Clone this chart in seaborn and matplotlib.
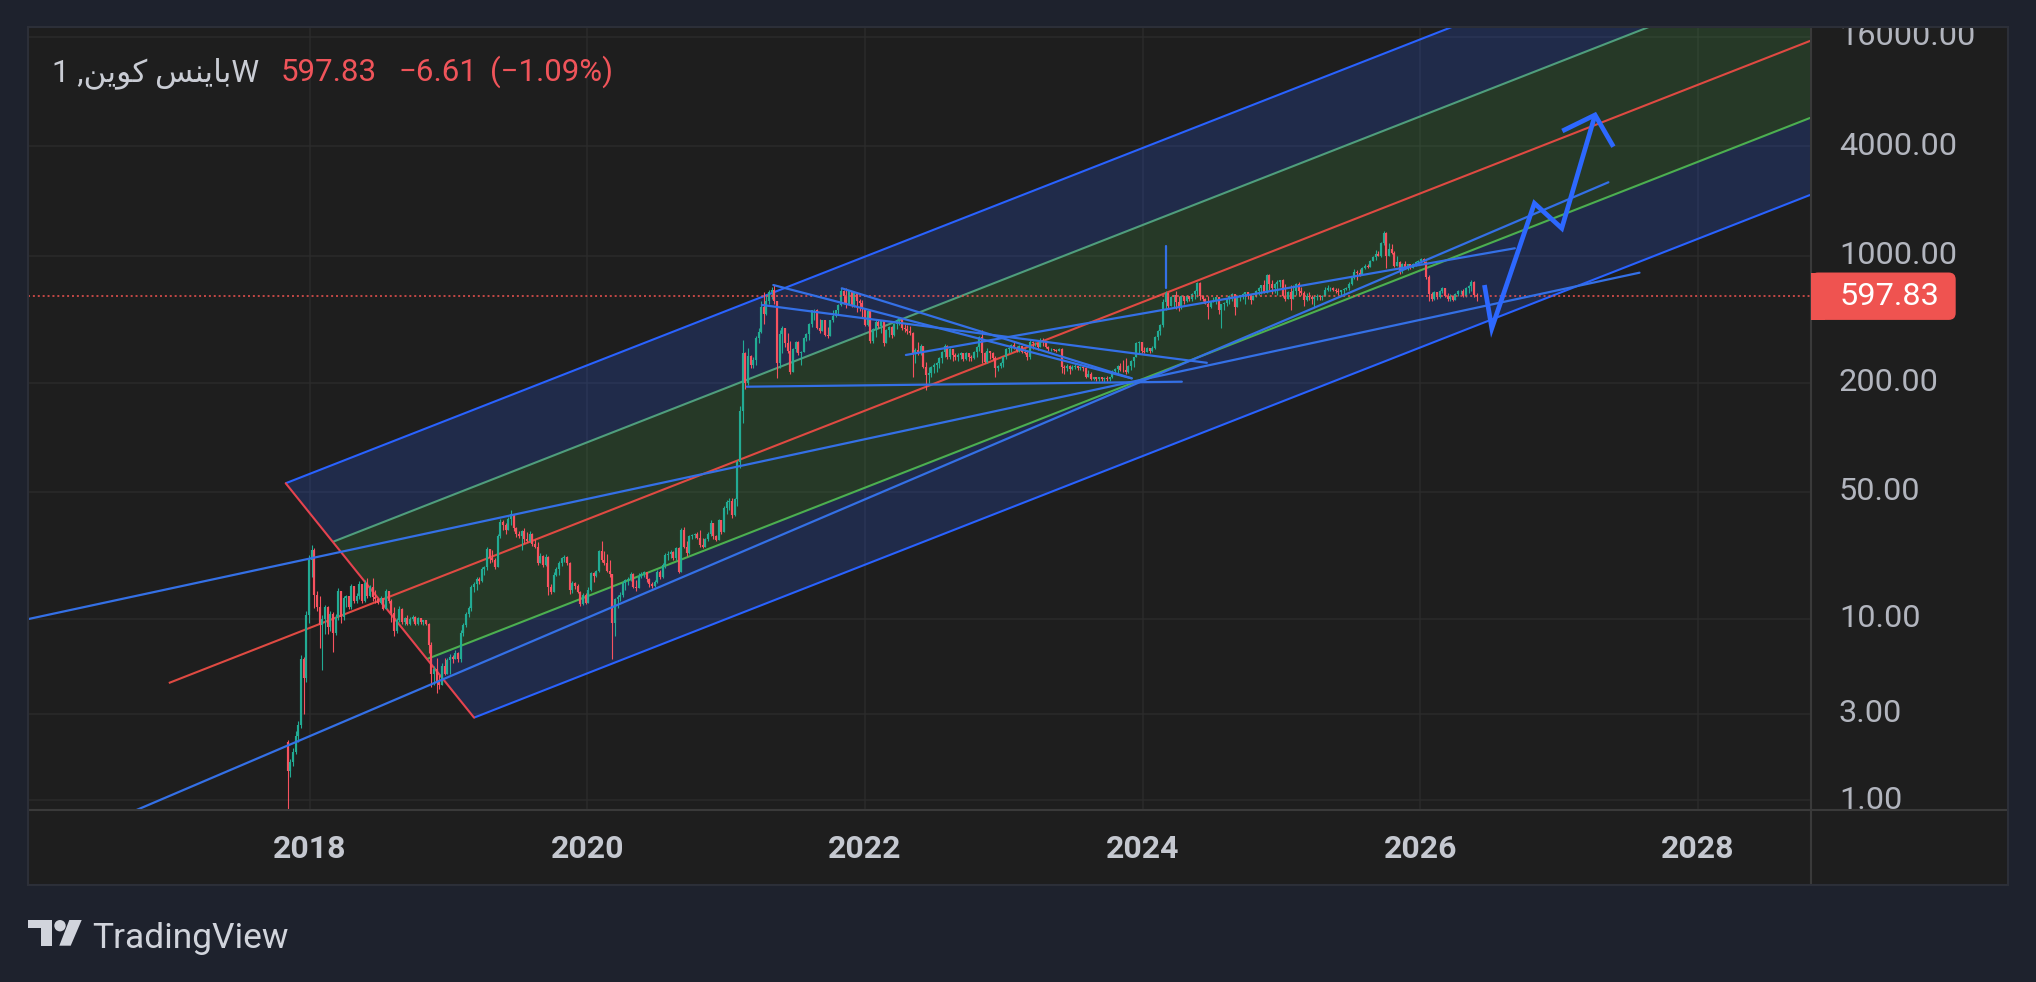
import matplotlib
matplotlib.use("Agg")
import numpy as np
import pandas as pd
import matplotlib.pyplot as plt
import matplotlib.transforms as mtransforms
from matplotlib.patches import Rectangle, FancyBboxPatch, Polygon, Circle
from matplotlib.lines import Line2D
from matplotlib.ticker import NullLocator
import seaborn as sns

# ------------------------------------------------------------------ data
first_open = 2.1
closes = [
    1.45, 1.62, 1.85, 2.25, 2.6, 6.0, 4.7, 10.5, 21, 24,
    13.5, 11.6, 9.2, 10.0, 11.6, 9.0, 10.7, 8.4, 10.3, 14.2,
    10.2, 13.0, 13.3, 11.6, 15.1, 12.6, 13.4, 15.5, 12.6, 15.8,
    13.4, 15.0, 13.2, 12.9, 12.3, 13.0, 11.4, 14.2, 12.5, 10.8,
    8.6, 9.8, 11.4, 9.6, 10.1, 9.4, 10.0, 10.3, 9.4, 10.1,
    9.6, 9.8, 9.4, 7.2, 5.0, 5.3, 4.5, 4.3, 5.5, 5.0,
    5.9, 6.2, 6.0, 6.5, 6.0, 8.4, 9.3, 10.6, 11.5, 15.0,
    15.5, 16.6, 16.2, 18.8, 19.2, 24.2, 21.5, 21.0, 19.2, 28.5,
    34.0, 33.0, 30.8, 35.5, 38.0, 31.5, 29.5, 28.6, 30.5, 27.5,
    26.8, 29.5, 25.7, 25.0, 20.3, 22.3, 19.7, 22.0, 15.0, 14.0,
    17.5, 18.7, 20.3, 21.5, 22.0, 20.2, 14.5, 15.8, 15.2, 14.1,
    12.0, 13.5, 12.3, 14.5, 17.9, 17.2, 18.3, 23.5, 21.2, 20.3,
    18.4, 17.6, 9.5, 12.8, 13.2, 13.5, 15.8, 16.3, 16.6, 17.6,
    15.0, 14.8, 17.3, 17.7, 18.0, 16.5, 15.6, 15.2, 16.0, 18.0,
    17.0, 19.8, 22.5, 22.8, 23.2, 21.5, 24.5, 18.2, 31.0, 25.0,
    23.0, 28.5, 28.8, 29.2, 28.0, 25.5, 25.0, 27.5, 29.3, 33.5,
    28.5, 27.3, 34.8, 30.0, 41.0, 44.0, 44.8, 37.5, 45.5, 73,
    140, 290, 200, 280, 250, 265, 350, 380, 520, 480,
    560, 630, 650, 560, 255, 370, 400, 330, 300, 228,
    305, 335, 290, 296, 350, 370, 418, 500, 505, 400,
    385, 440, 365, 360, 440, 465, 500, 535, 640, 600,
    540, 640, 525, 620, 560, 550, 510, 415, 495, 340,
    395, 432, 410, 435, 330, 390, 405, 365, 420, 445,
    455, 400, 395, 385, 375, 290, 302, 290, 320, 245,
    220, 225, 245, 250, 255, 272, 295, 320, 275, 305,
    285, 275, 285, 290, 270, 290, 276, 272, 295, 315,
    355, 290, 260, 300, 292, 272, 240, 246, 255, 275,
    305, 310, 322, 310, 300, 318, 295, 292, 275, 335,
    330, 332, 315, 345, 340, 315, 305, 305, 303, 300,
    308, 245, 240, 248, 238, 245, 248, 240, 243, 242,
    215, 222, 210, 214, 208, 214, 210, 213, 208, 214,
    232, 238, 246, 236, 234, 228, 248, 262, 275, 330,
    333, 300, 295, 310, 298, 312, 355, 385, 415, 555,
    620, 525, 590, 605, 555, 515, 598, 560, 600, 575,
    615, 640, 705, 600, 575, 545, 520, 555, 560, 590,
    500, 540, 550, 575, 600, 612, 520, 590, 605, 618,
    630, 605, 570, 600, 640, 665, 685, 625, 780, 700,
    660, 700, 720, 730, 600, 575, 630, 580, 640, 700,
    640, 620, 570, 600, 590, 575, 590, 600, 595, 602,
    645, 660, 665, 645, 640, 630, 645, 655, 665, 700,
    750, 815, 800, 780, 850, 880, 870, 940, 980, 1020,
    1000, 1180, 1330, 1000, 1090, 1030, 880, 920, 820, 900,
    850, 895, 860, 905, 925, 940, 960, 920, 760, 615,
    575, 630, 590, 640, 660, 600, 575, 600, 572, 615,
    635, 640, 600, 660, 680, 720, 604.44, 597.83,
]
highs = [
    2.15, 1.7, 1.95, 2.4, 2.75, 6.3, 6.2, 11, 22.5, 25.5,
    24.5, 14.2, 13.3, 10.5, 11.9, 11.7, 11.1, 10.9, 10.6, 14.8,
    14.3, 13.4, 13.6, 13.4, 15.6, 15.2, 13.9, 16.2, 15.6, 16.3,
    16.8, 15.3, 16.7, 14.5, 13.1, 13.3, 13.1, 14.6, 14.3, 12.8,
    11.6, 10.1, 11.7, 11.5, 10.3, 10.5, 10.2, 10.5, 10.4, 10.3,
    10.1, 9.9, 9.8, 9.5, 7.5, 5.5, 6.1, 4.9, 5.7, 6.1,
    6.1, 6.4, 6.3, 6.7, 6.6, 8.7, 9.5, 10.9, 11.8, 15.3,
    16.0, 17.0, 16.9, 19.2, 19.6, 25.0, 24.3, 23.8, 21.5, 29.5,
    35.5, 34.8, 33.5, 36.5, 39.8, 37.5, 32.0, 30.5, 31.0, 31.5,
    30.0, 30.5, 29.8, 27.5, 26.5, 23.0, 22.5, 22.8, 22.2, 15.5,
    18.0, 19.2, 20.8, 22.0, 22.4, 22.3, 20.5, 16.1, 16.0, 15.6,
    14.3, 13.9, 13.8, 14.9, 18.2, 18.0, 18.6, 24.0, 26.8, 23.5,
    22.8, 21.0, 17.3, 13.0, 13.6, 14.0, 16.2, 16.6, 17.0, 18.0,
    17.8, 16.3, 17.8, 18.0, 18.3, 18.2, 16.8, 15.9, 16.3, 18.5,
    18.6, 20.3, 23.0, 23.5, 23.8, 23.5, 25.0, 25.0, 31.8, 32.0,
    27.0, 29.0, 29.3, 29.6, 30.0, 30.8, 28.0, 28.0, 30.0, 35.0,
    33.8, 29.0, 35.5, 35.0, 42.0, 45.0, 46.0, 46.0, 46.5, 75,
    148, 345, 295, 310, 285, 275, 360, 400, 560, 630,
    610, 650, 670, 690, 560, 390, 410, 400, 375, 340,
    312, 340, 338, 300, 355, 375, 425, 505, 510, 510,
    450, 445, 445, 405, 445, 500, 505, 540, 660, 645,
    660, 645, 630, 625, 620, 575, 570, 510, 505, 500,
    400, 440, 445, 440, 430, 395, 410, 410, 425, 450,
    460, 455, 420, 415, 410, 380, 310, 335, 325, 320,
    260, 245, 248, 255, 260, 275, 300, 325, 322, 310,
    300, 292, 290, 293, 292, 295, 290, 285, 298, 318,
    360, 390, 295, 310, 300, 295, 280, 250, 260, 278,
    310, 315, 328, 335, 318, 322, 318, 305, 300, 342,
    338, 336, 330, 350, 350, 340, 318, 310, 308, 306,
    312, 310, 250, 252, 250, 250, 252, 248, 246, 246,
    245, 234, 228, 216, 215, 216, 215, 216, 217, 216,
    235, 240, 250, 255, 266, 272, 250, 266, 278, 335,
    338, 320, 315, 315, 310, 316, 360, 390, 420, 580,
    640, 625, 600, 610, 635, 600, 605, 600, 606, 600,
    620, 645, 720, 712, 610, 585, 596, 560, 594, 595,
    595, 545, 555, 580, 606, 620, 615, 594, 610, 622,
    634, 612, 610, 606, 645, 672, 690, 730, 795, 790,
    735, 705, 730, 735, 740, 700, 635, 690, 690, 705,
    720, 670, 635, 625, 630, 605, 605, 618, 610, 608,
    672, 685, 675, 672, 665, 660, 650, 660, 672, 712,
    765, 840, 830, 840, 870, 905, 905, 950, 990, 1075,
    1055, 1190, 1370, 1350, 1170, 1160, 1060, 1000, 930, 910,
    935, 905, 900, 912, 935, 950, 975, 970, 935, 780,
    630, 635, 628, 650, 670, 665, 625, 618, 605, 620,
    645, 648, 652, 672, 686, 735, 725, 620,
]
lows = [
    0.6, 1.35, 1.55, 1.8, 2.1, 2.5, 3.0, 4.5, 9.5, 17,
    11.5, 11.0, 6.9, 5.2, 8.3, 8.3, 8.6, 6.6, 8.1, 9.8,
    9.5, 9.9, 11.6, 11.3, 11.4, 12.2, 12.3, 12.9, 12.3, 12.4,
    13.0, 13.2, 12.6, 12.3, 12.0, 12.1, 11.2, 11.3, 12.2, 9.6,
    8.0, 8.4, 9.6, 9.4, 9.3, 9.2, 9.3, 9.7, 9.2, 9.3,
    9.4, 9.3, 9.2, 6.5, 4.2, 4.3, 3.9, 4.1, 4.3, 4.9,
    5.0, 5.0, 5.7, 6.0, 5.8, 5.8, 8.0, 9.0, 10.2, 11.0,
    14.0, 14.5, 15.5, 16.0, 17.5, 18.5, 20.2, 20.5, 18.8, 19.5,
    28.0, 31.0, 29.5, 31.5, 33.0, 30.5, 28.2, 28.0, 24.0, 26.0,
    26.5, 26.5, 25.2, 24.6, 19.8, 20.5, 19.2, 19.5, 13.6, 13.7,
    14.2, 17.3, 17.5, 19.5, 20.5, 19.8, 13.7, 13.8, 14.6, 13.8,
    11.7, 11.9, 12.0, 12.2, 14.3, 16.0, 17.0, 18.2, 20.5, 19.8,
    18.0, 17.0, 6.0, 8.0, 11.5, 12.5, 13.2, 14.5, 15.3, 16.2,
    14.7, 14.3, 14.8, 16.8, 17.0, 16.0, 15.0, 14.7, 15.0, 15.8,
    16.6, 16.8, 19.0, 21.0, 21.5, 21.0, 21.2, 17.8, 18.5, 24.5,
    22.3, 22.8, 27.5, 27.8, 27.5, 25.0, 24.6, 24.8, 27.0, 28.5,
    27.5, 27.0, 27.2, 29.5, 31.0, 38.0, 40.0, 36.0, 37.0, 42,
    68, 120, 185, 195, 240, 240, 250, 330, 375, 420,
    470, 540, 580, 545, 211, 240, 290, 315, 290, 222,
    265, 295, 285, 250, 295, 340, 345, 405, 440, 395,
    375, 385, 360, 350, 360, 430, 460, 480, 525, 540,
    515, 540, 520, 520, 490, 495, 460, 410, 410, 330,
    330, 355, 400, 375, 320, 330, 355, 350, 360, 395,
    415, 390, 380, 370, 365, 214, 255, 285, 285, 240,
    183, 200, 215, 225, 230, 240, 255, 275, 270, 270,
    262, 265, 262, 268, 262, 266, 262, 262, 270, 278,
    300, 255, 255, 255, 268, 266, 214, 232, 242, 245,
    270, 290, 295, 305, 295, 295, 290, 288, 265, 270,
    305, 318, 302, 315, 320, 310, 300, 300, 298, 296,
    298, 225, 224, 232, 224, 236, 238, 236, 236, 232,
    212, 218, 206, 206, 204, 205, 205, 202, 205, 203,
    212, 222, 225, 232, 230, 222, 225, 234, 245, 280,
    290, 290, 290, 295, 290, 295, 305, 345, 365, 405,
    500, 515, 535, 520, 510, 495, 510, 540, 555, 565,
    565, 580, 590, 570, 560, 540, 448, 515, 555, 540,
    480, 400, 500, 525, 545, 560, 470, 530, 565, 575,
    545, 575, 545, 570, 595, 605, 615, 620, 620, 645,
    618, 625, 605, 670, 595, 565, 575, 500, 575, 605,
    600, 610, 525, 560, 570, 545, 520, 570, 570, 570,
    600, 635, 640, 640, 620, 608, 610, 615, 645, 650,
    690, 745, 730, 775, 780, 840, 855, 865, 930, 945,
    990, 985, 1150, 860, 1000, 1020, 870, 905, 790, 800,
    840, 830, 840, 850, 880, 900, 915, 900, 740, 565,
    565, 570, 580, 585, 620, 595, 565, 560, 565, 568,
    600, 618, 590, 595, 620, 640, 590, 560,
]
first_bar_year = 2017.841          # decimal year of the first weekly bar

price_ticks = [1, 3, 10, 50, 200, 1000, 4000, 16000]
price_tick_labels = ["1.00", "3.00", "10.00", "50.00", "200.00",
                     "1000.00", "4000.00", "16000.00"]
year_ticks = [2018, 2020, 2022, 2024, 2026, 2028]
year_labels = ["2018", "2020", "2022", "2024", "2026", "2028"]

last_price = 597.83
change_abs = -6.61
change_pct = -1.09
# "باينس كوين, 1W" laid out in visual order with Arabic presentation forms
symbol_label = ("1 ," + "\uFEE6\uFEF3\uFEEE\uFEDB" + " "
                + "\uFEB2\uFEE8\uFEF3\uFE8E\uFE91" + "W")

# Fibonacci-style channel: corner A, corner B, second point of the level-0 line
channel_t = [2017.827, 2019.184, 2026.215]
channel_p = [55.8, 2.857, 17990]
channel_levels = [0.0, 0.25, 0.5, 0.75, 1.0]
median_left_t = 2016.985

# user trend lines (start / end)
trend_t0 = [2021.340, 2021.833, 2021.257, 2022.295, 2021.149, 2016.60, 2015.80, 2024.170]
trend_p0 = [689, 661, 535, 283.8, 189.8, 0.79, 9.34, 661]
trend_t1 = [2023.922, 2023.922, 2024.463, 2026.682, 2024.283, 2027.356, 2027.580, 2024.170]
trend_p1 = [211, 211, 257, 1098, 202.2, 2535, 805.6, 1130]

# projected path drawn with the arrow tool
arrow_t = [2026.463, 2026.516, 2026.823, 2027.020, 2027.260]
arrow_p = [689, 398, 1942, 1415, 5952]
arrow_head_t = [2027.024, 2027.260, 2027.392]
arrow_head_p = [4858, 5952, 3981]

# ------------------------------------------------------------------ style
sns.set_theme(style="dark")
plt.rcParams['font.family'] = ['Roboto', 'DejaVu Sans']

OUTER = '#1e222d'
BG = '#1e1e1e'
GRID = '#2b2b2b'
SEP = '#3a3a3a'
OUTLINE = '#2c2f38'
UP = '#22ab94'
DOWN = '#f7525f'
RED_TXT = '#f0545a'
BOX = '#ef5350'
AXIS_TXT = '#b2b5be'
YEAR_TXT = '#c5c8d0'
LEG_TXT = '#c9ccd4'
CH_BLUE = '#2962ff'
CH_TEAL = '#4f9e7d'
CH_RED = '#df4a42'
CH_GREEN = '#4caf50'
DIAG = '#e5434f'
TREND = '#3470e6'
ARROW = '#2d68ff'

W, H = 2036, 982
PLOT_L, PLOT_R, PLOT_T, PLOT_B = 28, 1811, 27, 810
PANEL_R, PANEL_B = 2008, 885
X0, X1 = 2015.9705, 2028.8156
Y0, Y1 = 0.8858, 18158

fig = plt.figure(figsize=(W / 100, H / 100), dpi=100)
fig.patch.set_facecolor(OUTER)
ident = mtransforms.IdentityTransform()

def fy(y):
    return H - y

# panel background
fig.add_artist(Rectangle((PLOT_L, fy(PANEL_B)), PANEL_R - PLOT_L, PANEL_B - PLOT_T,
                         transform=ident, facecolor=BG, edgecolor='none', zorder=-5))

ax = fig.add_axes([PLOT_L / W, (H - PLOT_B) / H, (PLOT_R - PLOT_L) / W, (PLOT_B - PLOT_T) / H])
ax.set_facecolor(BG)
ax.set_yscale('log')

# ---- channel fills and lines
tA, tB, tC = channel_t
lA, lB, lC = np.log10(channel_p)
slope = (lC - lA) / (tC - tA)
T_RIGHT = X1 + 0.7

def level_geom(f):
    t0 = tA + f * (tB - tA)
    l0 = lA + f * (lB - lA)
    return t0, l0, l0 + slope * (T_RIGHT - t0)

bands = [(0.0, 0.25, CH_BLUE, 0.20), (0.25, 0.75, CH_GREEN, 0.19), (0.75, 1.0, CH_BLUE, 0.20)]
for f1, f2, col, a in bands:
    ta, la0, la1 = level_geom(f1)
    tb, lb0, lb1 = level_geom(f2)
    ax.fill([ta, T_RIGHT, T_RIGHT, tb],
            [10 ** la0, 10 ** la1, 10 ** lb1, 10 ** lb0],
            color=col, alpha=a, lw=0, zorder=1)

level_colors = [CH_BLUE, CH_TEAL, CH_RED, CH_GREEN, CH_BLUE]
for f, col in zip(channel_levels, level_colors):
    t0, l0, l1 = level_geom(f)
    if f == 0.5:
        l0 = l0 + slope * (median_left_t - t0)
        t0 = median_left_t
    ax.plot([t0, T_RIGHT], [10 ** l0, 10 ** l1], color=col, lw=1.5,
            solid_capstyle='butt', zorder=3)
ax.plot([tA, tB], [channel_p[0], channel_p[1]], color=DIAG, lw=1.5, zorder=3)

# ---- candles
n = min(len(closes), len(highs), len(lows))
c = np.array(closes[:n], dtype=float)
o = np.concatenate([[first_open], c[:-1]])
hi = np.maximum(np.array(highs[:n], dtype=float), np.maximum(o, c))
lo = np.minimum(np.array(lows[:n], dtype=float), np.minimum(o, c))
t = first_bar_year + np.arange(n) * 7 / 365.25
cols = np.where(c >= o, UP, DOWN)
ax.vlines(t, lo, hi, colors=cols, lw=0.8, zorder=4)
ax.vlines(t, np.minimum(o, c), np.maximum(o, c), colors=cols, lw=1.55, zorder=4)

# ---- price line
ax.axhline(last_price, color=BOX, lw=1.1, ls=(0, (1.3, 1.9)), zorder=5)

# ---- trend lines (seaborn)
tl = pd.DataFrame({
    't': np.ravel(np.column_stack([trend_t0, trend_t1])),
    'p': np.ravel(np.column_stack([trend_p0, trend_p1])),
    'line': np.repeat(np.arange(len(trend_t0)), 2),
})
sns.lineplot(data=tl, x='t', y='p', units='line', estimator=None, sort=False,
             color=TREND, lw=1.6, ax=ax, legend=False, zorder=5)

# ---- arrow path
ax.plot(arrow_t, arrow_p, color=ARROW, lw=3.4, solid_joinstyle='miter',
        solid_capstyle='butt', zorder=6)
ax.plot(arrow_head_t, arrow_head_p, color=ARROW, lw=3.4, solid_joinstyle='miter',
        solid_capstyle='butt', zorder=6)

# ---- axes cosmetics
ax.set_xlim(X0, X1)
ax.set_ylim(Y0, Y1)
ax.set_xticks(year_ticks)
ax.set_yticks(price_ticks)
ax.yaxis.set_minor_locator(NullLocator())
ax.xaxis.set_minor_locator(NullLocator())
ax.grid(True, which='major', color=GRID, lw=1.1)
ax.set_axisbelow(True)
ax.tick_params(length=0, labelbottom=False, labelleft=False)
ax.set_xlabel('')
ax.set_ylabel('')
for s in ax.spines.values():
    s.set_visible(False)

for yr, lbl in zip(year_ticks, year_labels):
    ax.text(yr, -38.5 / (PLOT_B - PLOT_T), lbl, transform=ax.get_xaxis_transform(),
            ha='center', va='center', fontsize=23, fontweight='bold',
            color=YEAR_TXT, clip_on=False)

# ---- price scale
axp = fig.add_axes([PLOT_R / W, (H - PLOT_B) / H, (PANEL_R - PLOT_R) / W, (PLOT_B - PLOT_T) / H])
axp.set_facecolor(BG)
axp.set_yscale('log')
axp.set_ylim(Y0, Y1)
axp.set_xlim(0, 1)
axp.set_xticks([])
axp.set_yticks([])
axp.yaxis.set_minor_locator(NullLocator())
axp.grid(False)
for s in axp.spines.values():
    s.set_visible(False)
for v, s in zip(price_ticks, price_tick_labels):
    axp.text(0.142, v, s, transform=axp.get_yaxis_transform(), ha='left', va='center',
             fontsize=23.4, color=AXIS_TXT, clip_on=True)

y_disp = axp.transData.transform((0.5, last_price))[1]
fig.add_artist(FancyBboxPatch((PLOT_R, y_disp - 23.7), 144.7, 47.4,
                              boxstyle='round,pad=0,rounding_size=7', transform=ident,
                              facecolor=BOX, edgecolor='none', zorder=3))
fig.add_artist(Rectangle((PLOT_R, y_disp - 23.7), 14, 47.4, transform=ident,
                         facecolor=BOX, edgecolor='none', zorder=3))
fig.text(1840 / W, y_disp / H, f"{last_price:.2f}", color='white', fontsize=23.4,
         ha='left', va='center', zorder=4)

# ---- panel separators / outline
fig.add_artist(Line2D([PLOT_L, PANEL_R], [fy(PLOT_B), fy(PLOT_B)], transform=ident,
                      color=SEP, lw=1.5, zorder=2))
fig.add_artist(Line2D([PLOT_R, PLOT_R], [fy(PLOT_T), fy(PANEL_B)], transform=ident,
                      color=SEP, lw=1.5, zorder=2))
fig.add_artist(Rectangle((PLOT_L, fy(PANEL_B)), PANEL_R - PLOT_L, PANEL_B - PLOT_T,
                         transform=ident, facecolor='none', edgecolor=OUTLINE, lw=1.5, zorder=2))

# ---- legend
base = fy(81) / H
fig.text(52 / W, base, symbol_label, color=LEG_TXT, fontsize=22.5, ha='left', va='baseline')
fig.text(280.5 / W, base, f"{last_price:.2f}", color=RED_TXT, fontsize=22.5, ha='left', va='baseline')
fig.text(398 / W, base, f"{change_abs:.2f}".replace('-', '\u2212'), color=RED_TXT,
         fontsize=22.5, ha='left', va='baseline')
fig.text(490 / W, base, f"({change_pct:.2f}%)".replace('-', '\u2212'), color=RED_TXT,
         fontsize=22.5, ha='left', va='baseline')

# ---- TradingView logo
LOGO = '#d1d4dc'
fig.add_artist(Rectangle((28.3, fy(928.3)), 23.4, 8.3, transform=ident, fc=LOGO, ec='none'))
fig.add_artist(Rectangle((40.7, fy(945.7)), 11.0, 25.7, transform=ident, fc=LOGO, ec='none'))
fig.add_artist(Circle((60.0, fy(925.7)), 5.7, transform=ident, fc=LOGO, ec='none'))
fig.add_artist(Polygon([(69.3, fy(920)), (81.7, fy(920)), (70.7, fy(945.7)), (59.3, fy(945.7))],
                       closed=True, transform=ident, fc=LOGO, ec='none'))
fig.text(91.7 / W, fy(948.3) / H, "TradingView", color=LOGO, fontsize=25.5,
         ha='left', va='baseline')

fig.savefig("out.png", dpi=100, facecolor=fig.get_facecolor())
